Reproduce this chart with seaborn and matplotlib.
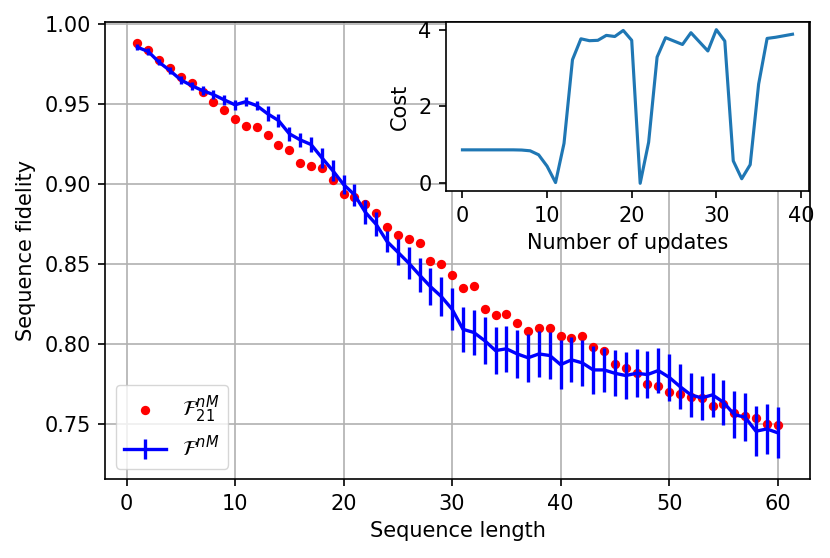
import numpy as np
import matplotlib
matplotlib.use('Agg')
import matplotlib.pyplot as plt
import seaborn as sns

seq_len = list(range(1, 61))

fid_21 = [0.988, 0.9837, 0.9775, 0.9725, 0.9666, 0.9629, 0.9573, 0.9514, 0.9462, 0.9404,
          0.936, 0.9354, 0.9308, 0.9246, 0.9212, 0.9129, 0.9112, 0.910, 0.9027, 0.8937,
          0.892, 0.8875, 0.882, 0.873, 0.868, 0.8655, 0.863, 0.852, 0.850, 0.843,
          0.835, 0.836, 0.822, 0.818, 0.8185, 0.8133, 0.8081, 0.8096, 0.810, 0.8052,
          0.8039, 0.8048, 0.7979, 0.7954, 0.7877, 0.7852, 0.7816, 0.775, 0.7738, 0.7698,
          0.7688, 0.7666, 0.766, 0.7614, 0.7625, 0.7569, 0.7552, 0.7538, 0.7496, 0.7494]

fid_mean = [0.9854, 0.9827, 0.976, 0.9708, 0.965, 0.9614, 0.9583, 0.9558, 0.9525, 0.9494,
            0.9514, 0.9489, 0.9438, 0.9396, 0.9313, 0.9275, 0.9246, 0.9163, 0.9083, 0.8996,
            0.8932, 0.8823, 0.8747, 0.864, 0.8573, 0.8505, 0.843, 0.8358, 0.8296, 0.8216,
            0.8091, 0.8071, 0.802, 0.7958, 0.7969, 0.7937, 0.7913, 0.7937, 0.7927, 0.787,
            0.790, 0.7881, 0.7837, 0.7837, 0.7816, 0.7802, 0.7816, 0.7808, 0.7833, 0.7791,
            0.7733, 0.7681, 0.7662, 0.7681, 0.7635, 0.7558, 0.7541, 0.7454, 0.7468, 0.7444]

fid_err = [0.002, 0.002, 0.002, 0.0022, 0.0025, 0.0025, 0.0027, 0.0027, 0.003, 0.003,
           0.0027, 0.003, 0.0046, 0.004, 0.0042, 0.0042, 0.0047, 0.0063, 0.0068, 0.006,
           0.0068, 0.0073, 0.0076, 0.0068, 0.0083, 0.0099, 0.0107, 0.0118, 0.0122, 0.0132,
           0.0139, 0.0138, 0.0146, 0.0145, 0.0143, 0.0149, 0.0149, 0.0144, 0.0145, 0.0151,
           0.0141, 0.0143, 0.0151, 0.014, 0.0144, 0.0146, 0.0151, 0.0145, 0.0142, 0.0146,
           0.0139, 0.0138, 0.0135, 0.0138, 0.0141, 0.0148, 0.015, 0.0158, 0.0156, 0.0159]

updates = list(range(0, 40))
cost = [0.86, 0.86, 0.86, 0.86, 0.86, 0.86, 0.86, 0.855, 0.835, 0.73,
        0.43, 0.0, 1.03, 3.23, 3.78, 3.73, 3.74, 3.87, 3.84, 4.0,
        3.74, -0.02, 1.06, 3.30, 3.81, 3.72, 3.63, 3.94, 3.70, 3.46,
        4.02, 3.72, 0.57, 0.10, 0.47, 2.59, 3.79, 3.82, 3.86, 3.90]

# original looks like 10pt at ~150 dpi, so scale everything by 1.5
plt.rcParams['font.size'] = 15
plt.rcParams['axes.linewidth'] = 1.2
plt.rcParams['xtick.major.width'] = 1.2
plt.rcParams['ytick.major.width'] = 1.2
plt.rcParams['xtick.major.size'] = 5.25
plt.rcParams['ytick.major.size'] = 5.25
plt.rcParams['xtick.major.pad'] = 5.25
plt.rcParams['ytick.major.pad'] = 5.25

fig = plt.figure(figsize = (8.3, 5.58), dpi = 100)
ax = fig.add_axes([0.127, 0.1416, 0.8485, 0.8184])

sns.scatterplot(x = seq_len, y = fid_21, color = 'red', s = 45, linewidth = 0,
                label = r'$\mathcal{F}^{nM}_{21}$', ax = ax)
ax.errorbar(seq_len, fid_mean, yerr = fid_err, color = 'blue', lw = 2.4, elinewidth = 2.4,
            label = r'$\mathcal{F}^{nM}$')
ax.grid(True, color = '#b0b0b0', lw = 1.2)
ax.set_axisbelow(True)
ax.set_xlabel('Sequence length', labelpad = 5)
ax.set_ylabel('Sequence fidelity', labelpad = 6)
ax.legend(loc = 'lower left')

ins = fig.add_axes([0.5373, 0.6577, 0.4374, 0.3029])
sns.lineplot(x = updates, y = cost, color = '#1f77b4', lw = 2.25, ax = ins)
ins.set_xticks([0, 10, 20, 30, 40])
ins.set_yticks([0, 2, 4])
ins.set_xlabel('Number of updates', labelpad = 5)
ins.set_ylabel('Cost', labelpad = 6)

fig.savefig('out.png', dpi = 100)
